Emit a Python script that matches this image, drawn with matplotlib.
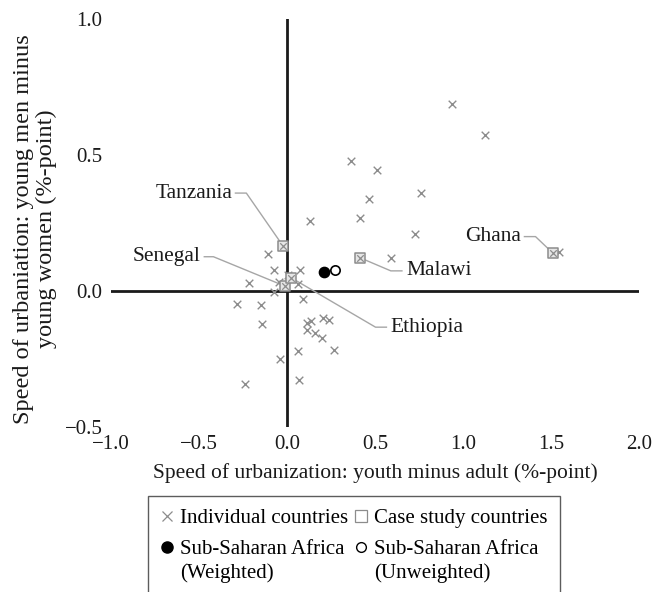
import matplotlib
matplotlib.use('Agg')
import matplotlib.pyplot as plt
from matplotlib.lines import Line2D
from matplotlib.ticker import FuncFormatter
import numpy as np

plt.rcParams['font.family'] = ['Liberation Serif', 'DejaVu Serif']

# individual countries (x: youth minus adult, y: young men minus young women)
indiv_x = [0.94, 1.125, 0.362, 0.509, 0.763, 0.468, 0.129, 0.416, 0.730, -0.106,
           0.59, -0.073, 0.073, -0.216, 0.062, 1.547, -0.023, 0.412, 0.023, -0.012,
           -0.044, -0.073, 0.005,
           -0.283, -0.146, 0.091, -0.141, 0.112, 0.139, 0.206, 0.239, 0.116, 0.160,
           0.198, 0.062, 0.268, -0.042, 0.067, -0.241]
indiv_y = [0.686, 0.575, 0.478, 0.446, 0.36, 0.337, 0.257, 0.268, 0.211, 0.135,
           0.123, 0.076, 0.076, 0.031, 0.026, 0.144, 0.166, 0.123, 0.049, 0.018,
           0.033, -0.004, 0.058,
           -0.047, -0.050, -0.030, -0.123, -0.118, -0.112, -0.100, -0.108, -0.143, -0.155,
           -0.174, -0.220, -0.217, -0.250, -0.328, -0.342]

# case study countries
case_names = ['Tanzania', 'Senegal', 'Ethiopia', 'Malawi', 'Ghana']
case_x = [-0.023, -0.012, 0.023, 0.412, 1.511]
case_y = [0.166, 0.018, 0.049, 0.123, 0.139]

# sub-saharan africa averages
ssa_w = (0.212, 0.070)
ssa_u = (0.274, 0.076)

# label text anchor, elbow point and end of leader line for each country
lab_pos = {'Tanzania': (-0.31, 0.36, 'right'), 'Senegal': (-0.49, 0.126, 'right'),
           'Ethiopia': (0.59, -0.133, 'left'), 'Malawi': (0.68, 0.074, 'left'),
           'Ghana': (1.33, 0.20, 'right')}
elbow = {'Tanzania': (-0.231, 0.36), 'Senegal': (-0.418, 0.126),
         'Ethiopia': (0.503, -0.133), 'Malawi': (0.59, 0.074), 'Ghana': (1.412, 0.20)}
line_end = {'Tanzania': -0.293, 'Senegal': -0.47, 'Ethiopia': 0.565,
            'Malawi': 0.653, 'Ghana': 1.349}

grey = '#8c8c8c'
ink = '#1a1a1a'

fig = plt.figure(figsize=(6.53, 5.92), dpi=100)
ax = fig.add_axes([111/653, 1-427/592, 528/653, 408/592])

ax.set_xlim(-1.0, 2.0)
ax.set_ylim(-0.5, 1.0)
for s in ax.spines.values():
    s.set_visible(False)
ax.axhline(0, color=ink, lw=2.0, zorder=1)
ax.axvline(0, color=ink, lw=2.0, zorder=1)

# leader lines + labels
for n, cx, cy in zip(case_names, case_x, case_y):
    ex, ey = elbow[n]
    ax.plot([cx, ex, line_end[n]], [cy, ey, ey], color='#a6a6a6', lw=1.0, zorder=2)
    tx, ty, ha = lab_pos[n]
    ax.text(tx, ty, n, ha=ha, va='center', fontsize=15.5, color=ink)

ax.scatter(indiv_x, indiv_y, marker='x', s=30, color=grey, linewidths=1.0, zorder=3)
ax.scatter(case_x, case_y, marker='s', s=55, facecolor='#e6e6e6', edgecolor=grey,
           linewidths=1.1, zorder=4)
ax.scatter(case_x, case_y, marker='x', s=22, color=grey, linewidths=0.9, zorder=5)
ax.scatter([ssa_w[0]], [ssa_w[1]], marker='o', s=55, color='black', zorder=6)
ax.scatter([ssa_u[0]], [ssa_u[1]], marker='o', s=45, facecolor='white',
           edgecolor='black', linewidths=1.2, zorder=6)

fmt = FuncFormatter(lambda v, p: f'{v:.1f}'.replace('-', '\u2212'))
ax.set_xticks([-1.0, -0.5, 0.0, 0.5, 1.0, 1.5, 2.0])
ax.set_yticks([-0.5, 0.0, 0.5, 1.0])
ax.xaxis.set_major_formatter(fmt)
ax.yaxis.set_major_formatter(fmt)
ax.tick_params(length=0, labelsize=15, colors=ink)
ax.tick_params(axis='x', pad=6)
ax.tick_params(axis='y', pad=6)

ax.set_xlabel('Speed of urbanization: youth minus adult (%-point)', fontsize=15.5,
              color=ink, labelpad=6)
ax.set_ylabel('Speed of urbaniation: young men minus\nyoung women (%-point)',
              fontsize=17.5, color=ink, linespacing=1.1)
ax.yaxis.set_label_coords(-0.102, 0.485)

handles = [
    Line2D([], [], marker='x', ls='none', color=grey, markersize=7, mew=0.9),
    Line2D([], [], marker='o', ls='none', color='black', markersize=8),
    Line2D([], [], marker='s', ls='none', mfc='white', mec=grey, markersize=8, mew=0.9),
    Line2D([], [], marker='o', ls='none', mfc='white', mec='black', markersize=7, mew=1.0),
]
labels = ['Individual countries', 'Sub-Saharan Africa\n(Weighted)',
          'Case study countries', 'Sub-Saharan Africa\n(Unweighted)']
leg = fig.legend(handles, labels, ncol=2, loc='upper left',
                 bbox_to_anchor=(148/653, 1-496/592), frameon=True, fancybox=False,
                 edgecolor='#333333', fontsize=15, handlelength=0.6, handletextpad=0.35,
                 columnspacing=0.3, borderpad=0.6, labelspacing=0.55,
                 borderaxespad=0)
leg.get_frame().set_linewidth(1.0)
for t in leg.get_texts():
    t.set_linespacing(1.3)
# put the marker of the two-line entries next to the first line
for i in (1, 3):
    h = leg.legend_handles[i]
    h.set_ydata(np.asarray(h.get_ydata()) + 10)

fig.savefig('out.png', dpi=100)
